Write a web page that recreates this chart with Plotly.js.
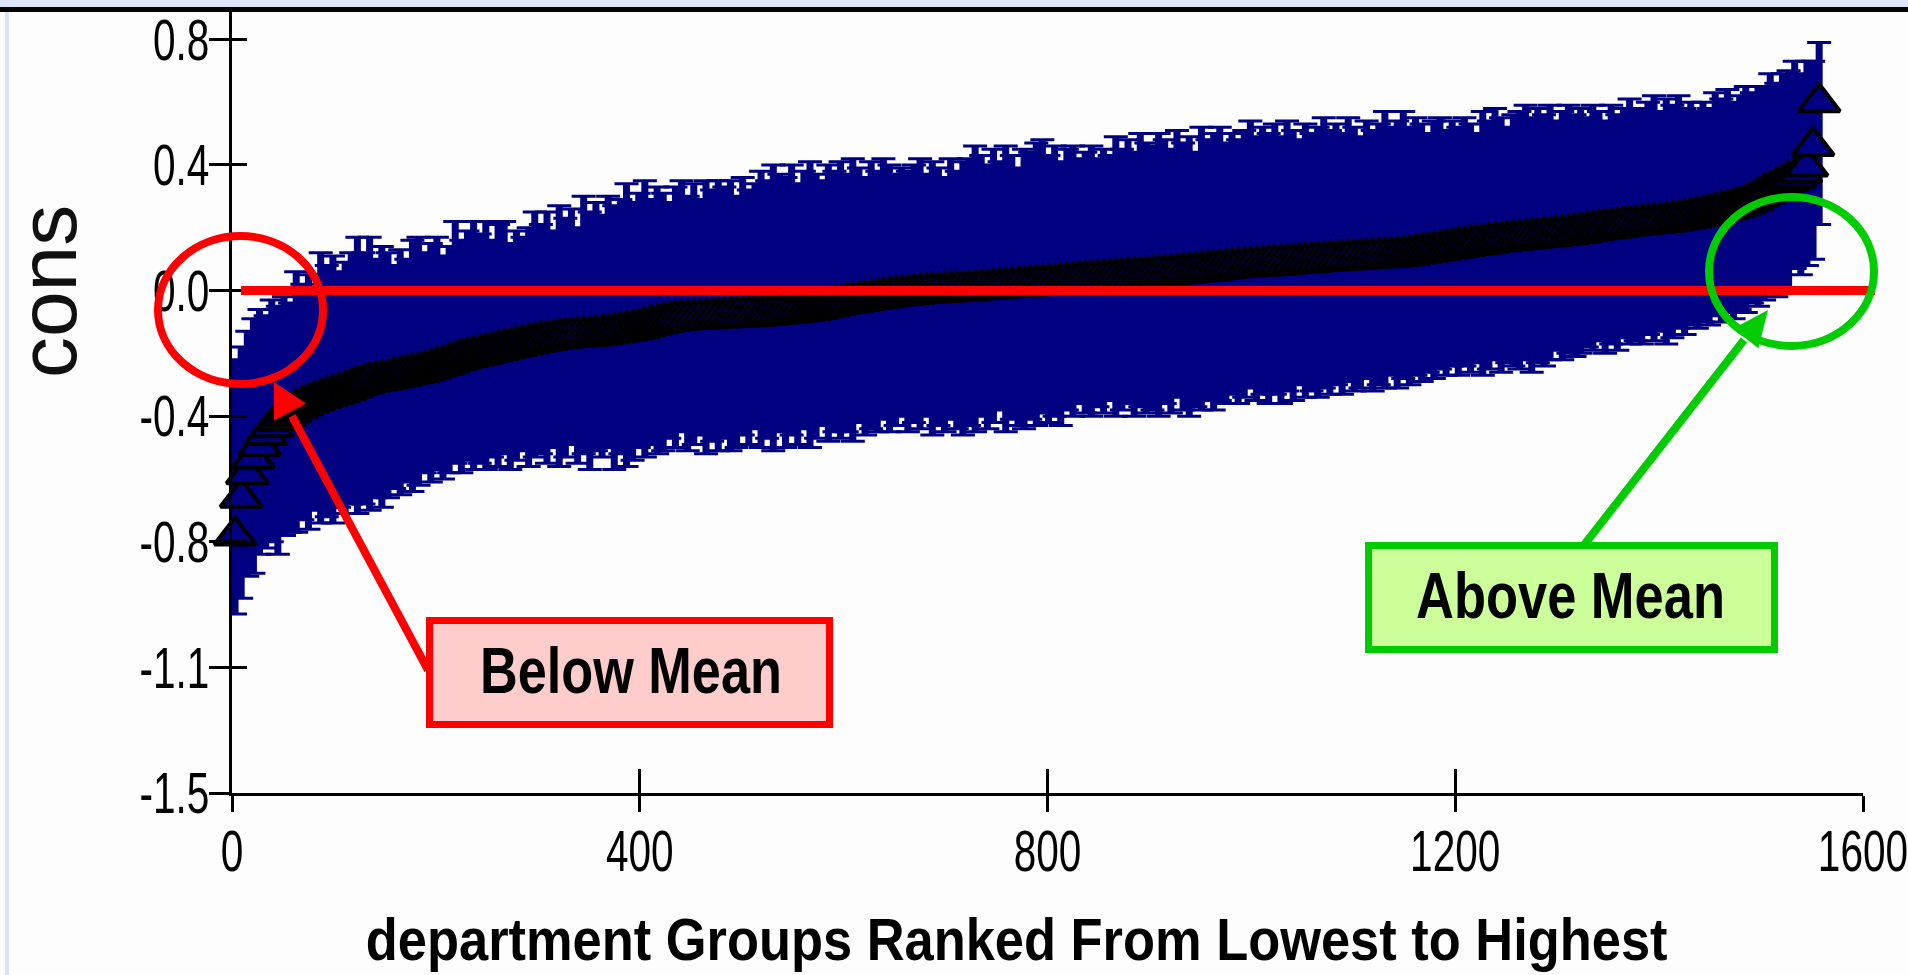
<!DOCTYPE html>
<html>
<head>
<meta charset="utf-8">
<script src="https://cdn.plot.ly/plotly-3.0.1.min.js"></script>
<style>
  html, body { margin: 0; padding: 0; background: #fdfdfd; }
  #chart { width: 1908px; height: 975px; }
</style>
</head>
<body>
<div id="chart"></div>
<script>
// ---------------- data ----------------
const rankFirst = 3;   // rank of the first plotted group
const rankStep = 6;    // rank spacing between plotted groups

const estimate = [
  -0.78,-0.66,-0.585,-0.535,-0.495,-0.46,-0.435,-0.415,-0.40,-0.387,
  -0.375,-0.365,-0.357,-0.349,-0.342,-0.336,-0.330,-0.324,-0.317,-0.309,
  -0.301,-0.295,-0.290,-0.287,-0.284,-0.280,-0.276,-0.271,-0.267,-0.263,
  -0.259,-0.254,-0.248,-0.242,-0.236,-0.229,-0.222,-0.216,-0.212,-0.207,
  -0.203,-0.198,-0.193,-0.189,-0.184,-0.180,-0.176,-0.172,-0.168,-0.164,
  -0.160,-0.157,-0.154,-0.151,-0.149,-0.147,-0.146,-0.145,-0.144,-0.142,
  -0.139,-0.136,-0.133,-0.130,-0.127,-0.123,-0.119,-0.114,-0.109,-0.104,
  -0.100,-0.097,-0.094,-0.092,-0.091,-0.090,-0.089,-0.088,-0.087,-0.086,
  -0.085,-0.084,-0.083,-0.082,-0.081,-0.080,-0.079,-0.077,-0.075,-0.073,
  -0.071,-0.069,-0.067,-0.065,-0.062,-0.058,-0.054,-0.050,-0.046,-0.042,
  -0.039,-0.036,-0.033,-0.030,-0.027,-0.024,-0.021,-0.018,-0.016,-0.014,
  -0.012,-0.010,-0.008,-0.006,-0.005,-0.004,-0.003,-0.002,-0.001,0.000,
  0.001,0.003,0.005,0.006,0.008,0.009,0.011,0.012,0.014,0.015,
  0.017,0.018,0.020,0.022,0.023,0.025,0.027,0.029,0.031,0.032,
  0.034,0.035,0.037,0.038,0.040,0.041,0.043,0.044,0.045,0.047,
  0.048,0.050,0.051,0.053,0.055,0.057,0.059,0.061,0.063,0.065,
  0.067,0.069,0.071,0.073,0.075,0.076,0.078,0.079,0.080,0.082,
  0.083,0.085,0.086,0.088,0.089,0.091,0.092,0.093,0.095,0.096,
  0.097,0.099,0.100,0.101,0.102,0.104,0.105,0.106,0.107,0.108,
  0.110,0.112,0.115,0.118,0.121,0.124,0.127,0.130,0.133,0.136,
  0.139,0.142,0.145,0.148,0.150,0.153,0.156,0.158,0.160,0.162,
  0.164,0.166,0.168,0.170,0.172,0.174,0.176,0.178,0.180,0.183,
  0.186,0.189,0.192,0.195,0.198,0.200,0.203,0.206,0.208,0.210,
  0.212,0.214,0.216,0.218,0.220,0.223,0.226,0.229,0.233,0.237,
  0.241,0.245,0.250,0.255,0.259,0.265,0.271,0.278,0.287,0.298,
  0.310,0.320,0.330,0.340,0.350,0.360,0.375,0.395,0.460,0.600
];

const ciUpper = [
  -0.22,-0.18,-0.13,-0.09,-0.06,-0.08,-0.03,-0.05,-0.02,-0.04,
  0.06,0.02,0.05,0.00,0.12,0.08,0.11,0.06,0.09,0.12,
  0.17,0.12,0.17,0.10,0.14,0.12,0.08,0.13,0.10,0.16,
  0.17,0.12,0.15,0.17,0.11,0.14,0.22,0.16,0.19,0.22,
  0.18,0.22,0.16,0.21,0.22,0.15,0.19,0.17,0.20,0.25,
  0.21,0.25,0.19,0.27,0.23,0.26,0.20,0.30,0.25,0.28,
  0.24,0.30,0.27,0.29,0.34,0.28,0.31,0.35,0.29,0.33,
  0.31,0.28,0.33,0.35,0.30,0.34,0.29,0.35,0.32,0.35,
  0.33,0.35,0.30,0.36,0.32,0.34,0.38,0.35,0.40,0.37,
  0.36,0.40,0.34,0.38,0.41,0.37,0.35,0.40,0.38,0.41,
  0.37,0.42,0.39,0.36,0.41,0.38,0.42,0.40,0.37,0.39,
  0.38,0.40,0.42,0.37,0.41,0.39,0.36,0.42,0.38,0.41,
  0.42,0.46,0.43,0.40,0.45,0.41,0.46,0.43,0.39,0.45,
  0.44,0.47,0.48,0.43,0.46,0.41,0.45,0.46,0.42,0.44,
  0.46,0.42,0.45,0.43,0.49,0.45,0.48,0.44,0.50,0.47,
  0.46,0.50,0.48,0.45,0.51,0.47,0.49,0.44,0.52,0.48,
  0.50,0.52,0.47,0.50,0.48,0.51,0.54,0.49,0.52,0.50,
  0.53,0.49,0.54,0.51,0.48,0.53,0.50,0.52,0.55,0.51,
  0.53,0.50,0.55,0.52,0.49,0.54,0.51,0.53,0.57,0.52,
  0.54,0.57,0.52,0.55,0.53,0.50,0.54,0.55,0.51,0.54,
  0.52,0.55,0.53,0.50,0.57,0.54,0.58,0.55,0.52,0.56,
  0.57,0.59,0.55,0.58,0.56,0.59,0.54,0.57,0.59,0.56,
  0.58,0.55,0.59,0.57,0.54,0.59,0.56,0.58,0.61,0.57,
  0.58,0.60,0.62,0.57,0.61,0.59,0.62,0.58,0.60,0.57,
  0.60,0.58,0.63,0.61,0.64,0.60,0.62,0.65,0.63,0.65,
  0.65,0.69,0.66,0.69,0.70,0.73,0.69,0.73,0.73,0.79
];

const ciLower = [
  -1.03,-0.98,-0.91,-0.90,-0.84,-0.82,-0.80,-0.84,-0.78,-0.77,
  -0.77,-0.73,-0.76,-0.70,-0.74,-0.72,-0.74,-0.69,-0.71,-0.68,
  -0.71,-0.68,-0.70,-0.66,-0.69,-0.66,-0.63,-0.65,-0.61,-0.64,
  -0.62,-0.58,-0.61,-0.57,-0.60,-0.58,-0.55,-0.58,-0.54,-0.57,
  -0.55,-0.57,-0.53,-0.56,-0.52,-0.57,-0.54,-0.51,-0.56,-0.53,
  -0.52,-0.55,-0.50,-0.56,-0.53,-0.49,-0.55,-0.52,-0.57,-0.51,
  -0.53,-0.50,-0.57,-0.52,-0.56,-0.54,-0.50,-0.53,-0.49,-0.52,
  -0.51,-0.47,-0.50,-0.45,-0.51,-0.49,-0.46,-0.52,-0.48,-0.51,
  -0.47,-0.51,-0.50,-0.46,-0.49,-0.44,-0.50,-0.47,-0.51,-0.45,
  -0.50,-0.46,-0.49,-0.44,-0.50,-0.47,-0.43,-0.48,-0.45,-0.47,
  -0.45,-0.48,-0.42,-0.46,-0.44,-0.45,-0.41,-0.45,-0.43,-0.40,
  -0.45,-0.42,-0.44,-0.40,-0.46,-0.43,-0.45,-0.41,-0.44,-0.46,
  -0.43,-0.45,-0.40,-0.44,-0.42,-0.38,-0.45,-0.41,-0.43,-0.44,
  -0.41,-0.43,-0.39,-0.42,-0.40,-0.43,-0.38,-0.40,-0.36,-0.39,
  -0.40,-0.37,-0.39,-0.35,-0.40,-0.38,-0.36,-0.40,-0.37,-0.39,
  -0.38,-0.40,-0.36,-0.39,-0.34,-0.38,-0.40,-0.37,-0.38,-0.35,
  -0.38,-0.35,-0.36,-0.33,-0.36,-0.34,-0.31,-0.35,-0.33,-0.36,
  -0.33,-0.36,-0.32,-0.35,-0.30,-0.34,-0.32,-0.34,-0.31,-0.33,
  -0.30,-0.33,-0.29,-0.32,-0.31,-0.28,-0.32,-0.30,-0.31,-0.27,
  -0.31,-0.28,-0.30,-0.27,-0.29,-0.26,-0.28,-0.25,-0.27,-0.24,
  -0.27,-0.24,-0.26,-0.23,-0.27,-0.25,-0.22,-0.26,-0.23,-0.24,
  -0.25,-0.22,-0.26,-0.23,-0.24,-0.22,-0.19,-0.22,-0.20,-0.21,
  -0.20,-0.18,-0.19,-0.16,-0.20,-0.17,-0.19,-0.15,-0.17,-0.16,
  -0.17,-0.14,-0.16,-0.13,-0.17,-0.15,-0.12,-0.14,-0.11,-0.12,
  -0.10,-0.11,-0.08,-0.10,-0.07,-0.09,-0.06,-0.07,-0.04,-0.05,
  -0.03,-0.01,-0.02,0.01,0.00,0.07,0.05,0.08,0.10,0.21
];

const xTickVals = [0, 400, 800, 1200, 1600];
const xTickText = ['0', '400', '800', '1200', '1600'];
const yTickVals = [0.8, 0.4, 0.0, -0.4, -0.8, -1.2, -1.6];
const yTickText = ['0.8', '0.4', '0.0', '-0.4', '-0.8', '-1.1', '-1.5'];
const meanValue = 0;

const xTitle = 'department Groups Ranked From Lowest to Highest';
const yTitle = 'cons';
const belowLabel = 'Below Mean';
const aboveLabel = 'Above Mean';

// ---------------- derived ----------------
const errPlus = ciUpper.map((u, i) => u - estimate[i]);
const errMinus = ciLower.map((l, i) => estimate[i] - l);

const W = 1908, H = 975;
const M = { l: 232, r: 45, t: 12, b: 182 };
const PW = W - M.l - M.r, PH = H - M.t - M.b;
const px = x => (x - M.l) / PW;          // page pixel -> paper x
const py = y => (M.t + PH - y) / PH;     // page pixel -> paper y

const NAVY = '#000080';
const RED = '#ff0000';
const GREEN = '#00cc00';
const SANS = "'Liberation Sans', Arial, sans-serif";

const traces = [
  { // error-bar stems (thick, no caps)
    type: 'scatter', mode: 'markers',
    x0: rankFirst, dx: rankStep, y: estimate,
    marker: { size: 1, opacity: 0 },
    error_y: { type: 'data', symmetric: false, array: errPlus, arrayminus: errMinus,
               color: NAVY, thickness: 7, width: 0 },
    cliponaxis: false, hoverinfo: 'skip', showlegend: false
  },
  { // caps and triangle markers
    type: 'scatter', mode: 'markers',
    x0: rankFirst, dx: rankStep, y: estimate,
    marker: { symbol: 'triangle-up', size: 36, color: NAVY, line: { color: '#000000', width: 4 } },
    error_y: { type: 'data', symmetric: false, array: errPlus, arrayminus: errMinus,
               color: NAVY, thickness: 3, width: 12 },
    cliponaxis: false, showlegend: false
  },
  { // carrier for the inner tick axes
    type: 'scatter', mode: 'markers', x: [], y: [], xaxis: 'x2', yaxis: 'y2',
    showlegend: false, hoverinfo: 'skip'
  }
];

function arrowHead(tip, c1, c2) {
  return `M${px(tip[0])},${py(tip[1])} L${px(c1[0])},${py(c1[1])} L${px(c2[0])},${py(c2[1])} Z`;
}

const shapes = [
  // slide frame decoration
  { type: 'rect', xref: 'paper', yref: 'paper', x0: px(0), x1: px(W), y0: py(7), y1: py(0),
    fillcolor: '#dce4fa', line: { width: 0 } },
  { type: 'rect', xref: 'paper', yref: 'paper', x0: px(0), x1: px(W), y0: py(12), y1: py(7),
    fillcolor: '#000000', line: { width: 0 } },
  { type: 'rect', xref: 'paper', yref: 'paper', x0: px(5), x1: px(9), y0: py(H), y1: py(12),
    fillcolor: '#dce4fa', line: { width: 0 } },
  // mean line
  { type: 'line', xref: 'paper', yref: 'y', x0: px(241), x1: px(1875), y0: meanValue, y1: meanValue,
    line: { color: RED, width: 9 } },
  // circles
  { type: 'circle', xref: 'paper', yref: 'paper', x0: px(158), x1: px(323), y0: py(384), y1: py(236),
    line: { color: RED, width: 8 } },
  { type: 'circle', xref: 'paper', yref: 'paper', x0: px(1709), x1: px(1874), y0: py(346), y1: py(197),
    line: { color: GREEN, width: 8 } },
  // red arrow
  { type: 'line', xref: 'paper', yref: 'paper', x0: px(428), y0: py(670), x1: px(292), y1: py(416),
    line: { color: RED, width: 8 } },
  { type: 'path', xref: 'paper', yref: 'paper', path: arrowHead([274, 382], [306, 403.5], [274, 420.5]),
    fillcolor: RED, line: { width: 0 } },
  // green arrow
  { type: 'line', xref: 'paper', yref: 'paper', x0: px(1584), y0: py(545), x1: px(1744), y1: py(340),
    line: { color: GREEN, width: 8 } },
  { type: 'path', xref: 'paper', yref: 'paper', path: arrowHead([1768, 310], [1758.4, 348.2], [1733.2, 328.4]),
    fillcolor: GREEN, line: { width: 0 } },
  // label boxes
  { type: 'rect', xref: 'paper', yref: 'paper', x0: px(429.5), x1: px(829.5), y0: py(724.5), y1: py(620.5),
    fillcolor: '#ffcccc', line: { color: RED, width: 7 } },
  { type: 'rect', xref: 'paper', yref: 'paper', x0: px(1368.5), x1: px(1774.5), y0: py(649.5), y1: py(545.5),
    fillcolor: '#ccff99', line: { color: GREEN, width: 7 } }
];

const annotations = [
  { text: yTitle, xref: 'paper', yref: 'paper', x: px(47), y: py(292), xanchor: 'center', yanchor: 'middle',
    textangle: -90, showarrow: false,
    font: { family: SANS, size: 82, color: '#111111' } },
  { text: xTitle, xref: 'paper', yref: 'paper', x: px(1016), y: py(940), xanchor: 'center', yanchor: 'middle',
    showarrow: false, font: { family: SANS, size: 59, weight: 'bold', color: '#000000' } },
  { text: belowLabel, xref: 'paper', yref: 'paper', x: px(631), y: py(671), xanchor: 'center', yanchor: 'middle',
    showarrow: false, font: { family: SANS, size: 64, weight: 'bold', color: '#000000' } },
  { text: aboveLabel, xref: 'paper', yref: 'paper', x: px(1570.5), y: py(596), xanchor: 'center', yanchor: 'middle',
    showarrow: false, font: { family: SANS, size: 64, weight: 'bold', color: '#000000' } }
];

// target ink widths of the condensed texts in the reference, in px
const narrowWidths = { 1: 1302, 2: 302, 3: 309 };

const tickFont = { family: SANS, size: 58, color: '#000000' };

const layout = {
  width: W, height: H,
  margin: { l: M.l, r: M.r, t: M.t, b: M.b, pad: 0 },
  paper_bgcolor: '#fdfdfd', plot_bgcolor: 'rgba(0,0,0,0)',
  showlegend: false,
  xaxis: {
    range: [0, 1600], tickmode: 'array', tickvals: xTickVals, ticktext: xTickText,
    ticks: 'outside', ticklen: 16, tickwidth: 3, tickcolor: '#000000',
    showline: true, linewidth: 3, linecolor: '#000000', ticklabeloverflow: 'allow',
    ticklabelstandoff: -11,
    showgrid: false, zeroline: false, tickfont: tickFont
  },
  yaxis: {
    range: [-1.6, 0.887], tickmode: 'array', tickvals: yTickVals, ticktext: yTickText,
    ticks: 'outside', ticklen: 20, tickwidth: 3, tickcolor: '#000000',
    showline: true, linewidth: 3, linecolor: '#000000', ticklabeloverflow: 'allow',
    ticklabelstandoff: -12,
    showgrid: false, zeroline: false, tickfont: tickFont
  },
  xaxis2: {
    overlaying: 'x', anchor: 'y2', side: 'bottom',
    range: [0, 1600], tickmode: 'array', tickvals: xTickVals,
    ticks: 'inside', ticklen: 24, tickwidth: 3, tickcolor: '#000000',
    showticklabels: false, showline: false, showgrid: false, zeroline: false
  },
  yaxis2: {
    overlaying: 'y', anchor: 'x2', side: 'left',
    range: [-1.6, 0.887], tickmode: 'array', tickvals: yTickVals,
    ticks: 'inside', ticklen: 15, tickwidth: 3, tickcolor: '#000000',
    showticklabels: false, showline: false, showgrid: false, zeroline: false
  },
  shapes: shapes,
  annotations: annotations
};

// condense a text horizontally about its anchor x (the reference uses a narrow face)
function squeeze(el, factor) {
  const ax = parseFloat(el.getAttribute('x') || '0') || 0;
  const prev = el.getAttribute('transform') || '';
  el.setAttribute('transform',
    (prev + ` translate(${ax},0) scale(${factor},1) translate(${-ax},0)`).trim());
}

Plotly.newPlot('chart', traces, layout, { displayModeBar: false, staticPlot: true }).then(gd => {
  gd.querySelectorAll('g.xtick text, g.ytick text').forEach(t => squeeze(t, 0.70));
  gd.querySelectorAll('g.annotation').forEach(g => {
    const idx = g.getAttribute('data-index');
    const target = narrowWidths[idx];
    if (!target) return;
    const t = g.querySelector('text.annotation-text');
    if (!t) return;
    const w = t.getBBox().width;
    if (w > 0) squeeze(t, target / w);
  });
});
</script>
</body>
</html>
